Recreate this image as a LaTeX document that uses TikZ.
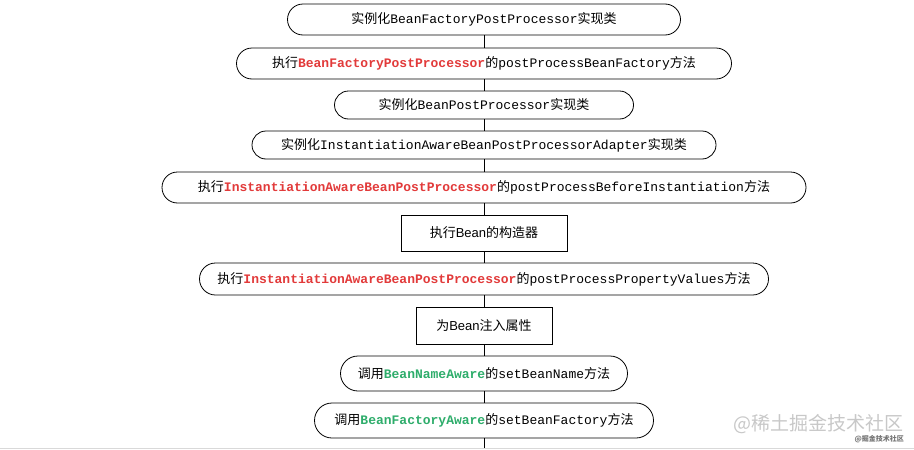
\documentclass[tikz,border=0pt]{standalone}
\usepackage{fontspec}
\setmainfont{Liberation Sans}
\newfontfamily\cjk{Noto Sans CJK SC}
\newfontfamily\mono{Liberation Mono}
\definecolor{redc}{HTML}{E23A3A}
\definecolor{greenc}{HTML}{2EAD6B}
\definecolor{wmgray}{HTML}{C8C8C8}
\newcommand{\zh}[1]{{\cjk #1}}
\newcommand{\mn}[1]{{\mono #1}}
\newcommand{\rd}[1]{{\mono\bfseries\color{redc}#1}}
\newcommand{\gn}[1]{{\mono\bfseries\color{greenc}#1}}
\tikzset{
  pill/.style={draw=black, line width=0.8pt, inner sep=0pt, align=center},
  boxnode/.style={draw=black, line width=0.8pt, inner sep=0pt, align=center},
  link/.style={draw=black, line width=0.8pt},
}
\begin{document}
\begin{tikzpicture}[x=1pt, y=-1pt, font=\fontsize{13}{15}\selectfont]
\useasboundingbox (0,0) rectangle (914,450);
\fill[white] (0,0) rectangle (914,450);
\node[pill, minimum width=393pt, minimum height=31pt, rounded corners=15.5pt] (n1) at (484,19.5)
  {\zh{实例化}\mn{BeanFactoryPostProcessor}\zh{实现类}};
\node[pill, minimum width=495pt, minimum height=31pt, rounded corners=15.5pt] (n2) at (484,63.5)
  {\zh{执行}\rd{BeanFactoryPostProcessor}\zh{的}\mn{postProcessBeanFactory}\zh{方法}};
\node[pill, minimum width=299pt, minimum height=28pt, rounded corners=14pt] (n3) at (484,105)
  {\zh{实例化}\mn{BeanPostProcessor}\zh{实现类}};
\node[pill, minimum width=464pt, minimum height=28pt, rounded corners=14pt] (n4) at (484,145)
  {\zh{实例化}\mn{InstantiationAwareBeanPostProcessorAdapter}\zh{实现类}};
\node[pill, minimum width=644pt, minimum height=31pt, rounded corners=15.5pt] (n5) at (484,187.5)
  {\zh{执行}\rd{InstantiationAwareBeanPostProcessor}\zh{的}\mn{postProcessBeforeInstantiation}\zh{方法}};
\node[boxnode, minimum width=166pt, minimum height=36pt] (n6) at (484,233)
  {\zh{执行}Bean\zh{的构造器}};
\node[pill, minimum width=569pt, minimum height=32pt, rounded corners=16pt] (n7) at (484,279)
  {\zh{执行}\rd{InstantiationAwareBeanPostProcessor}\zh{的}\mn{postProcessPropertyValues}\zh{方法}};
\node[boxnode, minimum width=136pt, minimum height=37pt] (n8) at (484,325.5)
  {\zh{为}Bean\zh{注入属性}};
\node[pill, minimum width=287pt, minimum height=35pt, rounded corners=17.5pt] (n9) at (484,373.5)
  {\zh{调用}\gn{BeanNameAware}\zh{的}\mn{setBeanName}\zh{方法}};
\node[pill, minimum width=339pt, minimum height=35pt, rounded corners=17.5pt] (n10) at (484,420.5)
  {\zh{调用}\gn{BeanFactoryAware}\zh{的}\mn{setBeanFactory}\zh{方法}};
\coordinate (end) at (484,448);
\draw[link] (n1) -- (n2);
\draw[link] (n2) -- (n3);
\draw[link] (n3) -- (n4);
\draw[link] (n4) -- (n5);
\draw[link] (n5) -- (n6);
\draw[link] (n6) -- (n7);
\draw[link] (n7) -- (n8);
\draw[link] (n8) -- (n9);
\draw[link] (n9) -- (n10);
\draw[link] (n10) -- (end);
\coordinate (bl) at (0,448.5);
\coordinate (br) at (914,448.5);
\draw[black!15, line width=1.2pt] (bl) -- (br);
\node[anchor=east, inner sep=0pt, text=wmgray, font=\cjk\fontsize{19}{20}\selectfont] (wm) at (904,424) {@稀土掘金技术社区};
\node[anchor=east, inner sep=0pt, text=black!55, font=\cjk\bfseries\fontsize{7}{8}\selectfont] (wm2) at (904,439.5) {@掘金技术社区};
\end{tikzpicture}
\end{document}
